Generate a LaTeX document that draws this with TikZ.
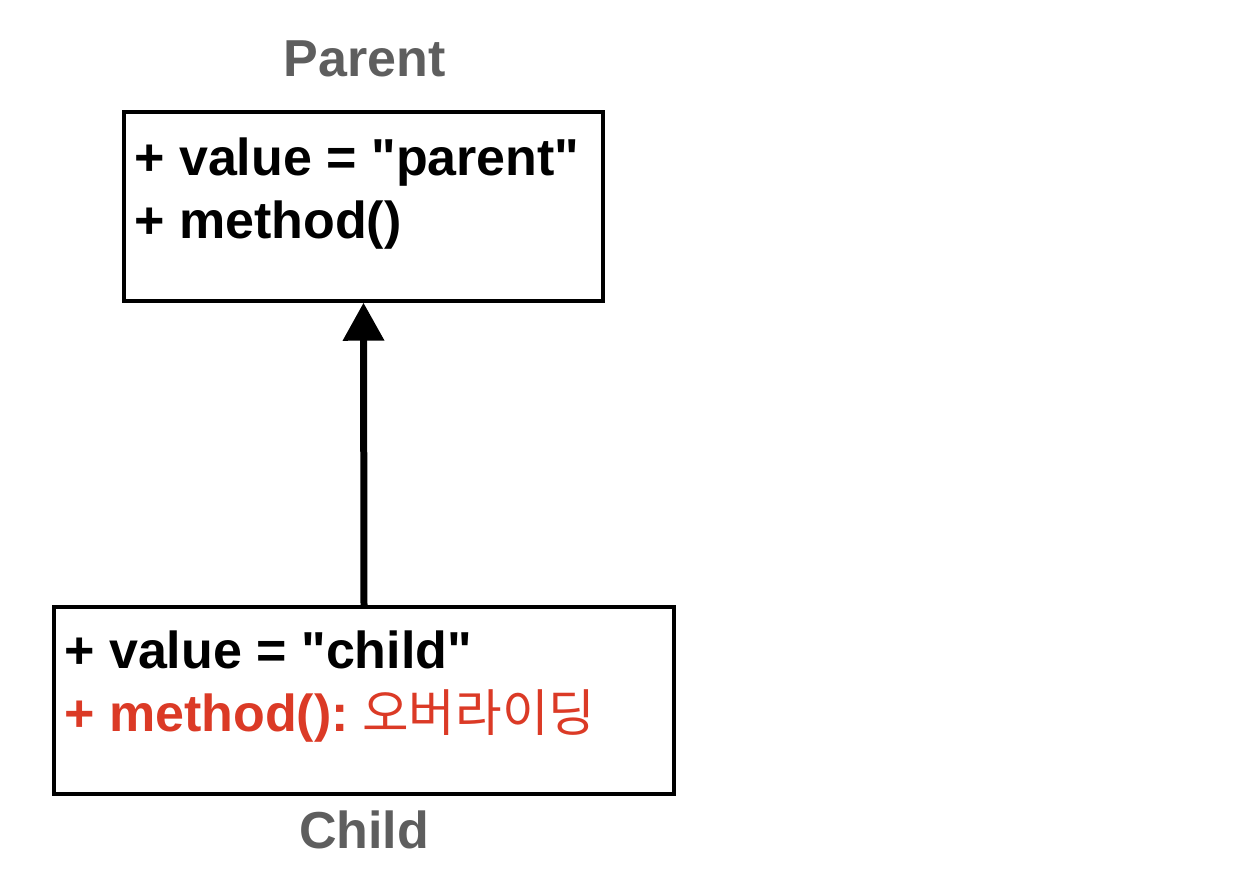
\documentclass[tikz,border=0pt]{standalone}
\usepackage{fontspec}
\setmainfont{Liberation Sans}
\newfontfamily\krfont{Noto Sans CJK KR}
\usetikzlibrary{arrows.meta}
\definecolor{labelgray}{RGB}{94,94,94}
\definecolor{overred}{RGB}{219,58,38}

\begin{document}
\begin{tikzpicture}[x=0.02cm, y=-0.02cm,
  every node/.style={inner sep=0pt, font=\fontsize{29.6}{36}\selectfont\bfseries},
  box/.style={draw, line width=0.07cm},
  member/.style={anchor=base west},
  title/.style={anchor=base, labelgray}]
\useasboundingbox (0,0) rectangle (1238,892);
% Draw class boxes
\node[box, minimum width=9.58cm, minimum height=3.78cm] (parent) at (363.5,206.5) {};
\node[box, minimum width=12.4cm, minimum height=3.74cm] (child) at (364,700.5) {};
% Draw class names
\node[title] (parentName) at (364.5,77) {Parent};
\node[title] (childName) at (364,848) {Child};
% Draw members
\node[member] (parentValue) at (134,175) {+ value = \textquotedbl parent\textquotedbl};
\node[member] (parentMethod) at (134,238) {+ method()};
\node[member] (childValue) at (64,668) {+ value = \textquotedbl child\textquotedbl};
\node[member, overred] (childMethod) at (64,731) {+ method():\hspace{0.27cm}{\krfont\mdseries\fontsize{28.8}{32}\selectfont 오버라이딩}};
% Draw inheritance arrow
\draw[-{Triangle[length=0.76cm, width=0.8cm]}, line width=0.14cm] (child.north) -- (parent.south);
\end{tikzpicture}
\end{document}
